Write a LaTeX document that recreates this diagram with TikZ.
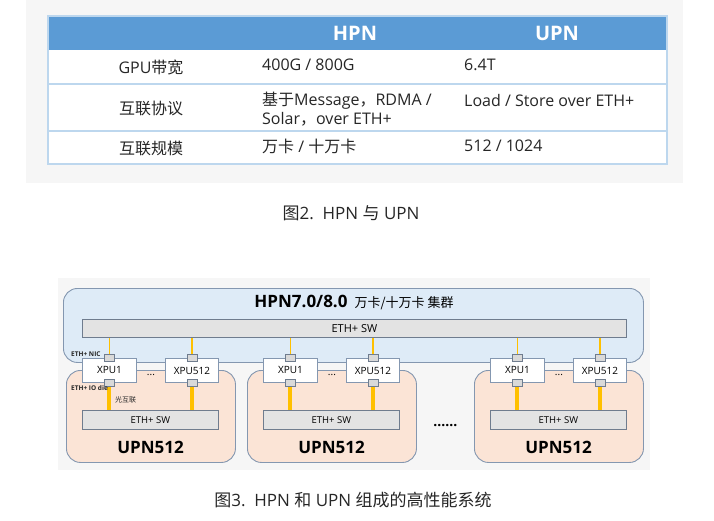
\documentclass[tikz,border=0pt]{standalone}
\usepackage{fontspec}
\setmainfont{Open Sans}
\newfontfamily\cjk{Noto Sans CJK SC}
\usetikzlibrary{positioning,calc}
\definecolor{bggray}{HTML}{F6F6F6}
\definecolor{tblhead}{HTML}{5B9BD5}
\definecolor{tblline}{HTML}{BDD7EE}
\definecolor{txtgray}{HTML}{262626}
\definecolor{hpnfill}{HTML}{DEEBF7}
\definecolor{upnfill}{HTML}{FBE4D6}
\definecolor{boxline}{HTML}{8497B0}
\definecolor{swfill}{HTML}{E3E3E3}
\definecolor{swline}{HTML}{6F7C8E}
\definecolor{portfill}{HTML}{D9D9D9}
\definecolor{fiber}{HTML}{FFC000}
\tikzset{
  cell/.style={font=\fontsize{16}{19}\selectfont, text=txtgray, inner sep=0pt, align=left},
  headcell/.style={font=\fontsize{20}{24}\selectfont\bfseries, text=white, inner sep=0pt},
  caption/.style={font=\fontsize{17}{20}\selectfont, text=txtgray, inner sep=0pt},
  hpnbox/.style={draw=boxline, fill=hpnfill, rounded corners=14pt, line width=0.9pt,
                 minimum width=580pt, minimum height=74pt, anchor=north west},
  upnbox/.style={draw=boxline, fill=upnfill, rounded corners=14pt, line width=0.9pt,
                 minimum width=169pt, minimum height=92pt, anchor=north west},
  swbar/.style={draw=swline, fill=swfill, line width=0.8pt, inner sep=0pt, anchor=north west},
  xpu/.style={draw=boxline, fill=white, line width=0.9pt, inner sep=0pt, anchor=north west,
              minimum width=53pt, minimum height=24pt, font=\fontsize{10}{12}\selectfont},
  port/.style={draw=swline, fill=portfill, line width=0.7pt, inner sep=0pt,
               minimum width=10pt, minimum height=7pt},
  tinylbl/.style={font=\fontsize{6.5}{8}\selectfont\bfseries, text=txtgray, inner sep=0pt},
  uplink/.style={fiber, line width=1.5pt},
  downlink/.style={fiber, line width=4pt}
}
\begin{document}
\begin{tikzpicture}[x=1pt,y=-1pt]
  \useasboundingbox (0,0) rectangle (714,520);
  % table: HPN vs UPN
  \fill[bggray] (26,0) rectangle (683,183);
  \fill[white] (48,16) rectangle (667,164);
  \fill[tblhead] (48,16) rectangle (667,50);
  \draw[tblline, line width=1.2pt] (48,16) rectangle (667,164);
  \draw[tblline, line width=1.2pt] (48,84) -- (667,84);
  \draw[tblline, line width=1.2pt] (48,131) -- (667,131);
  \node[headcell] (hhpn) at (355,33) {HPN};
  \node[headcell] (hupn) at (557,33) {UPN};
  \node[cell] (rbw) at (151,67) {GPU{\cjk 带宽}};
  \node[cell] (rproto) at (151,108) {\cjk 互联协议};
  \node[cell] (rscale) at (151,148) {\cjk 互联规模};
  \node[cell, anchor=west] (hbw) at (262,65) {400G / 800G};
  \node[cell, anchor=west] (hproto) at (262,109) {{\cjk 基于}Message{\cjk ，}RDMA /\\Solar{\cjk ，}over ETH+};
  \node[cell, anchor=west] (hscale) at (262,146) {{\cjk 万卡} / {\cjk 十万卡}};
  \node[cell, anchor=west] (ubw) at (464,65) {6.4T};
  \node[cell, anchor=west] (uproto) at (464,100) {Load / Store over ETH+};
  \node[cell, anchor=west] (uscale) at (464,146) {512 / 1024};
  \node[caption] (cap2) at (351,213) {{\cjk 图}2.\ \ HPN {\cjk 与} UPN};
  % system: HPN cluster over UPN512 domains
  \fill[bggray] (58,278) rectangle (650,470);
  \node[hpnbox] (hpn) at (63,288) {};
  \node[inner sep=0pt] (hpntitle) at (354,302)
    {\fontsize{17}{20}\selectfont\bfseries HPN7.0/8.0\hspace{7pt}{\cjk\mdseries\fontsize{13}{16}\selectfont 万卡/十万卡 集群}};
  \node[swbar, minimum width=544pt, minimum height=18pt, font=\fontsize{11}{13}\selectfont]
    (hpnsw) at (82,319) {ETH+ SW};
  \foreach \i/\x in {1/66,2/247,3/474} {
    \node[upnbox] (upn\i) at (\x,370) {};
    \node[swbar, minimum width=136pt, minimum height=19pt, font=\fontsize{9.5}{12}\selectfont]
      (usw\i) at (\x+16,410) {ETH+ SW};
    \node[font=\fontsize{17}{20}\selectfont\bfseries, inner sep=0pt] (ulbl\i) at (\x+84.5,447) {UPN512};
    \node[xpu, minimum width=54pt] (xpua\i) at (\x+16,358) {XPU1};
    \node[xpu] (xpub\i) at (\x+99,358) {XPU512};
    \node[port] (pta\i) at (xpua\i.north) {};
    \node[port] (pba\i) at (xpua\i.south) {};
    \node[port] (ptb\i) at (xpub\i.north) {};
    \node[port] (pbb\i) at (xpub\i.south) {};
    \node[font=\fontsize{10}{10}\selectfont, inner sep=0pt] (xdots\i)
      at ([yshift=-5pt]$(xpua\i.east)!0.5!(xpub\i.west)$) {...};
    \draw[uplink] (pta\i.north) -- (pta\i.north |- hpnsw.south);
    \draw[uplink] (ptb\i.north) -- (ptb\i.north |- hpnsw.south);
    \draw[downlink] (pba\i.south) -- (pba\i.south |- usw\i.north);
    \draw[downlink] (pbb\i.south) -- (pbb\i.south |- usw\i.north);
  }
  \node[font=\fontsize{14}{14}\selectfont\bfseries, inner sep=0pt] (gapdots)
    at ([yshift=-9pt]$(upn2.east)!0.5!(upn3.west)$) {......};
  \node[tinylbl, anchor=west] (nic) at (71,354) {ETH+ NIC};
  \node[tinylbl, anchor=west] (iodie) at (71,388) {ETH+ IO die};
  \node[tinylbl, anchor=west, font=\cjk\mdseries\fontsize{7}{8}\selectfont] (optic) at (115,400) {光互联};
  \node[caption] (cap3) at (353,500) {{\cjk 图}3.\ \ HPN {\cjk 和} UPN {\cjk 组成的高性能系统}};
\end{tikzpicture}
\end{document}
